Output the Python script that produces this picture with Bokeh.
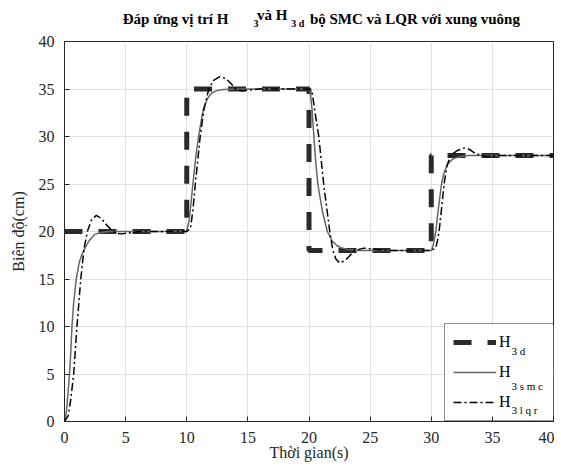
import numpy as np
from bokeh.plotting import figure
from bokeh.layouts import column
from bokeh.models import Legend, LegendItem, FixedTicker, ColumnDataSource, BoxAnnotation
from bokeh.core.properties import value
from bokeh.embed import file_html
from bokeh.resources import INLINE

# ---- data ----
step_times = [0, 10, 20, 30, 40]
step_levels = [20, 35, 18, 28]

t_smc = [0, 0.1, 0.2, 0.3, 0.41, 0.5, 0.61, 0.75, 0.96, 1.2, 1.4, 1.65, 2.0, 2.47, 3.0, 3.6, 10,
         10.2, 10.35, 10.5, 10.75, 10.97, 11.2, 11.38, 11.7, 12.06, 12.5, 13.0, 14.0, 20,
         20.1, 20.25, 20.4, 20.55, 20.72, 21.1, 21.5, 21.9, 22.3, 22.6, 23.2, 24.0, 30,
         30.15, 30.37, 30.6, 30.84, 31.05, 31.3, 31.6, 31.87, 32.4, 33.0, 40]
h_smc = [0, 0.5, 1.6, 3.2, 5, 7, 10, 12.5, 15, 16.7, 17.5, 18.2, 19.0, 19.7, 19.9, 20, 20,
         21.2, 23, 25, 28, 30, 31.8, 33, 34, 34.6, 34.85, 34.95, 35, 35,
         34.8, 32.8, 30, 27.3, 25, 22.1, 20, 19, 18.5, 18.3, 18.1, 18, 18,
         18.5, 20, 22.6, 25, 26.2, 27, 27.45, 27.7, 27.9, 28, 28]

t_lqr = [0, 0.3, 0.5, 0.75, 1.02, 1.33, 1.6, 1.87, 2.2, 2.6, 3.0, 3.5, 3.97, 4.3, 4.7, 5.3, 6.0, 7.0, 10,
         10.3, 10.5, 10.7, 10.9, 11.1, 11.4, 11.8, 12.2, 12.7, 13.2, 13.6, 14.0, 14.5, 15.2, 16.0, 20,
         20.25, 20.5, 20.8, 21.0, 21.2, 21.45, 21.7, 21.95, 22.2, 22.5, 22.9, 23.3, 23.7, 24.5, 25.5, 26.5, 30,
         30.37, 30.5, 30.64, 30.85, 31.05, 31.3, 31.6, 32.1, 32.7, 33.2, 33.6, 34.5, 35.5, 40]
h_lqr = [0, 0.6, 2.2, 5, 10, 15, 18.2, 20, 21.2, 21.7, 21.4, 20.6, 20, 19.8, 19.75, 19.85, 19.97, 20, 20,
         20.3, 22.2, 25, 27.5, 30, 32.8, 35, 35.9, 36.3, 36.1, 35.6, 35.0, 34.8, 34.9, 35, 35,
         34.7, 32.5, 30, 27.5, 25, 22.5, 20, 18, 17.1, 16.7, 16.9, 17.4, 18, 18.25, 18.1, 18, 18,
         18.3, 19, 20, 22.5, 25, 27, 28, 28.5, 28.8, 28.6, 28.2, 27.9, 28, 28]

x_ticks = [0, 5, 10, 15, 20, 25, 30, 35, 40]
y_ticks = [0, 5, 10, 15, 20, 25, 30, 35, 40]

title_parts = ["Đáp ứng vị trí H", "3", "và H", "3 d", "bộ SMC và LQR với xung vuông"]
legend_labels = ["H", "H", "H"]
legend_subs = ["3 d", "3 s m c", "3 l q r"]
x_label = "Thời gian(s)"
y_label = "Biên độ(cm)"

# step reference path built from the levels
t_d, h_d = [], []
for i, lvl in enumerate(step_levels):
    t_d += [step_times[i], step_times[i + 1]]
    h_d += [lvl, lvl]

SERIF = "Liberation Serif"
AXC = "#262626"
W = 554
TH = 30

# ---------- title strip ----------
pt = figure(width=W, height=TH, x_range=(0, W), y_range=(0, TH),
            output_backend="svg", toolbar_location=None,
            x_axis_type=None, y_axis_type=None,
            min_border=0, min_border_left=0, min_border_right=0,
            min_border_top=0, min_border_bottom=0)
pt.outline_line_color = None
pt.grid.visible = False
tsrc = ColumnDataSource(dict(
    x=[66, 214, 218, 257, 278],
    y=[TH - 18, TH - 22.5, TH - 14, TH - 22.5, TH - 18],
    text=title_parts,
    size=["15px", "10px", "15px", "10px", "15px"],
))
pt.text(x="x", y="y", text="text", source=tsrc, text_font=value(SERIF),
        text_font_size="size", text_font_style="bold", text_color="black",
        text_align="left", text_baseline="alphabetic")

# ---------- main plot ----------
p = figure(width=W, height=434, x_range=(0, 40), y_range=(0, 40),
           output_backend="svg", toolbar_location=None,
           min_border_left=64, min_border_right=1, min_border_top=11, min_border_bottom=43)
p.background_fill_color = "white"
p.border_fill_color = "white"
p.outline_line_color = AXC
p.outline_line_width = 1
p.outline_line_alpha = 1

for ax, ticks in ((p.xaxis, x_ticks), (p.yaxis, y_ticks)):
    ax.ticker = FixedTicker(ticks=ticks)
    ax.major_tick_in = 5
    ax.major_tick_out = 0
    ax.minor_tick_line_color = None
    ax.axis_line_color = AXC
    ax.major_tick_line_color = AXC
    ax.major_label_text_font = SERIF
    ax.major_label_text_font_size = "16px"
    ax.major_label_text_color = AXC
    ax.axis_label_text_font = SERIF
    ax.axis_label_text_font_size = "16px"
    ax.axis_label_text_font_style = "normal"
    ax.axis_label_text_color = AXC
p.xaxis.major_label_standoff = 10
p.yaxis.major_label_standoff = 10
p.xaxis.axis_label = x_label
p.yaxis.axis_label = y_label
p.xaxis.axis_label_standoff = -2
p.yaxis.axis_label_standoff = 9

p.xgrid.ticker = FixedTicker(ticks=x_ticks)
p.ygrid.ticker = FixedTicker(ticks=y_ticks)
p.grid.grid_line_color = "#e0e0e0"
p.grid.grid_line_width = 1

# white background of the legend box (drawn over the grid, under the legend)
p.add_layout(BoxAnnotation(left=380, right=489, bottom=0, top=96,
                           left_units="screen", right_units="screen",
                           bottom_units="screen", top_units="screen",
                           fill_color="white", fill_alpha=1, line_color=None,
                           level="underlay"))

r_d = p.line(t_d, h_d, line_color="#2a2a2a", line_width=5, line_dash="18 16", line_cap="butt")
r_s = p.line(t_smc, h_smc, line_color="#666666", line_width=1.5)
r_l = p.line(t_lqr, h_lqr, line_color="black", line_width=1.5, line_dash="8 3 2 3")

# legend subscripts (placed beside the legend's "H" labels)
p.text(x=[36.56, 36.56, 36.56], y=[7.4, 3.7, 1.2], text=legend_subs,
       text_font=value(SERIF), text_font_size="11px", text_color="black",
       text_align="left", text_baseline="alphabetic")

legend = Legend(items=[LegendItem(label=legend_labels[0], renderers=[r_d]),
                       LegendItem(label=legend_labels[1], renderers=[r_s]),
                       LegendItem(label=legend_labels[2], renderers=[r_l])],
                location=(380, 0), margin=0, padding=8, spacing=10,
                glyph_width=43, glyph_height=20, label_standoff=3,
                label_width=47, label_height=20,
                border_line_color=AXC, border_line_width=1,
                background_fill_alpha=0,
                label_text_font=SERIF, label_text_font_size="16px", label_text_color="black")
p.add_layout(legend, "center")

layout = column(pt, p, spacing=0)
open("out.html", "w").write(file_html(layout, INLINE))
